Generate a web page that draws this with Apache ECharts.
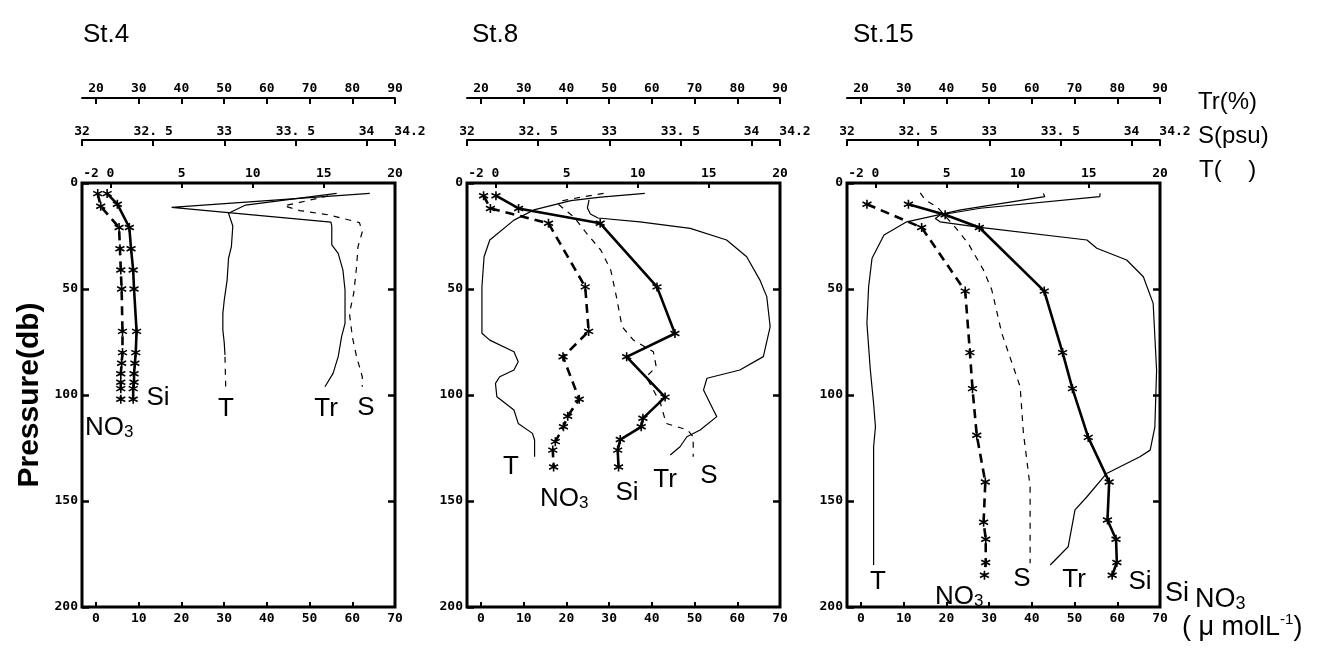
<!DOCTYPE html>
<html><head><meta charset="utf-8">
<script src="https://cdn.jsdelivr.net/npm/echarts@6/dist/echarts.min.js"></script>
<style>html,body{margin:0;padding:0;background:#fff}#c{width:1338px;height:648px}</style>
</head><body><div id="c"></div>
<script>
// ---------- tick labels ----------
const trTicks = [20,30,40,50,60,70,80,90];
const sTicks = [32,32.5,33,33.5,34,34.2];
const tTicks = [-2,0,5,10,15,20];
const nutTicks = [0,10,20,30,40,50,60,70];
const depthTicks = [0,50,100,150,200];
const stations = ['St.4','St.8','St.15'];

// ---------- St.4 ----------
const st4SiDepth = [5,10,21,31,41,50,70,80,85,90,94,97,102];
const st4Si      = [2.6,5.0,7.8,8.2,8.7,8.9,9.5,9.3,9.1,8.9,8.9,8.7,8.7];
const st4NO3Depth = [5,11,21,31,41,50,70,80,85,90,94,97,102];
const st4NO3      = [0.4,1.1,5.4,5.6,5.8,6.0,6.2,6.2,6.0,5.8,5.8,5.8,5.8];
const st4TDepth = [4.9,10.4,14.3,20.3,30,35.5,45.8,55.2,61.5,69.3,75.6,81.1];
const st4T      = [15.9,9.5,8.3,8.6,8.5,8.3,8.2,8.0,7.9,7.9,8.0,8.05];
const st4TDeepDepth = [82,96];
const st4TDeep      = [8.05,8.1];
const st4TrDepth = [4.9,11.5,18.5,20.3,29.2,33.2,41,50.5,66.2,72.5,81.9,89.8,96.1];
const st4Tr      = [84.1,37.7,75.0,75.2,75.2,76.7,77.8,78.3,78.3,77.5,76.7,75.5,73.6];
const st4SDepth = [6.1,10.8,13,15.1,18.7,23,30,39.5,52,61.5,72.5,81.9,86.6,91.4,96.1];
const st4S      = [33.73,33.42,33.53,33.74,33.95,33.97,33.94,33.93,33.91,33.88,33.90,33.93,33.95,33.97,33.97];

// ---------- St.8 ----------
const st8SiDepth = [6,12,19,49,71,82,101,111,115,121,126,134];
const st8Si      = [3.5,8.8,27.9,41.2,45.4,34.1,43.1,37.9,37.5,32.6,32.0,32.2];
const st8NO3Depth = [6,12,19,49,70,82,102,110,115,122,126,134];
const st8NO3      = [0.6,2.2,15.8,24.4,25.2,19.2,23.0,20.3,19.3,17.4,16.8,17.0];
const st8TDepth = [4.9,6.7,8.3,12.7,17.5,26.9,34.8,48.9,70.9,74.1,79.6,84.3,88.2,91.4,94.5,100.8,107.1,113.4,118.1,121.2,129.1];
const st8T      = [10.5,7.4,5.3,2.7,1.3,-0.4,-0.8,-0.95,-0.95,-0.4,1.3,1.6,1.3,0.3,0.0,0.1,1.3,1.6,2.6,2.75,2.75];
const st8TrDepth = [8,11.8,14.6,16.5,18.3,21.4,26.9,34.8,45.8,53.6,67.8,81.9,88.2,92.1,97.6,107.1,110.2,116.5,119.7,124.4,128.3];
const st8Tr      = [45.3,44.9,45.6,47.4,57.2,69.0,77.5,82.2,85.3,86.9,87.7,86.1,80.6,72.9,72.1,74.4,75.2,71.3,68.2,66.6,64.3];
const st8SDepth = [4.9,6.7,8.5,9.9,12.7,15.9,23.7,31.6,41,53.6,67.8,74.1,79.6,86.7,91.4,103.9,113.4,116.5,119.7,129.1];
const st8S      = [32.96,32.80,32.66,32.64,32.69,32.75,32.84,32.94,33.01,33.05,33.09,33.17,33.31,33.33,33.26,33.36,33.40,33.55,33.59,33.59];

// ---------- St.15 ----------
const st15SiDepth = [10,15,21,51,80,97,120,141,159,168,179,185];
const st15Si      = [11.1,19.7,27.7,42.9,47.2,49.5,53.2,58.1,57.7,59.7,59.9,58.8];
const st15NO3Depth = [10,21,51,80,97,119,141,160,168,179,185];
const st15NO3      = [1.4,14.2,24.4,25.5,26.1,27.1,29.1,28.7,29.2,29.2,28.9];
const st15TDepth = [4.9,6.4,12.7,18.3,24.5,35.5,48.9,66.2,88.2,104,115,124.4,180.2];
const st15T      = [11.8,11.9,6.0,2.2,0.6,-0.24,-0.48,-0.6,-0.36,-0.13,0,-0.13,-0.13];
const st15TrDepth = [4.9,6.4,11.9,15.1,16.7,18.3,20.9,26.9,30.8,36.3,44.2,56.8,88.2,115,126,129.1,137,148,154.2,171.6,180.2];
const st15Tr      = [76.0,75.9,47.9,38.5,37.4,38.5,47.9,72.9,75.2,82.2,86.1,88.4,89.2,88.8,87.7,85.3,77.5,72.9,70.1,68.5,64.3];
const st15SDepth = [4.7,8,11.3,20.8,28.3,41,50.5,70.9,96.1,118,130.7,143.3,179.4];
const st15S      = [32.515,32.55,32.634,32.76,32.85,32.959,33.018,33.088,33.217,33.24,33.264,33.287,33.287];

// ---------- chart ----------
const chart = echarts.init(document.getElementById('c'), null, {renderer:'canvas'});
const MONOFAM = '"DejaVu Sans Mono", monospace';
const MONO = {fontFamily:MONOFAM, fontSize:13, fontWeight:'bold', color:'#000'};
const SANS = '"Liberation Sans", Arial, sans-serif';
const ASTER = 'path://M5,0L5,10M0.67,2.5L9.33,7.5M0.67,7.5L9.33,2.5';
const lefts = [82,467,847];

const grid = lefts.map(l => ({left:l, top:183, width:313, height:424, show:true,
  borderColor:'#000', borderWidth:3, backgroundColor:'transparent', containLabel:false}));

const xAxis = [], yAxis = [];
lefts.forEach((l,g) => {
  // T axis (box top)
  xAxis.push({gridIndex:g, type:'value', position:'top', min:-2, max:20,
    axisLine:{show:false, onZero:false}, splitLine:{show:false},
    axisTick:{show:true, inside:true, length:5, lineStyle:{color:'#000', width:2}, customValues:[0,5,10,15]},
    axisLabel:Object.assign({customValues:tTicks, margin:3,
      formatter: v => v === -2 ? '{l|-2}' : String(v),
      rich:{l:{fontFamily:MONOFAM, fontSize:13, fontWeight:'bold', color:'#000', padding:[0,0,0,18]}}}, MONO)});
  // S axis
  xAxis.push({gridIndex:g, type:'value', position:'top', offset:43, min:32, max:34.2,
    axisLine:{show:true, onZero:false, lineStyle:{color:'#000', width:2}}, splitLine:{show:false},
    axisTick:{show:true, inside:true, length:6, lineStyle:{color:'#000', width:2}, customValues:sTicks},
    axisLabel:Object.assign({customValues:sTicks, margin:2,
      formatter: v => v === 34.2 ? '{r|34.2}' : String(v).replace('.', '. '),
      rich:{r:{fontFamily:MONOFAM, fontSize:13, fontWeight:'bold', color:'#000', padding:[0,0,0,30]}}}, MONO)});
  // Tr axis
  xAxis.push({gridIndex:g, type:'value', position:'top', offset:85, min:16.72, max:90,
    axisLine:{show:true, onZero:false, lineStyle:{color:'#000', width:2}}, splitLine:{show:false},
    axisTick:{show:true, inside:true, length:6, lineStyle:{color:'#000', width:2}, customValues:trTicks},
    axisLabel:Object.assign({customValues:trTicks, margin:3}, MONO)});
  // Si / NO3 axis (bottom)
  xAxis.push({gridIndex:g, type:'value', position:'bottom', min:-3.28, max:70,
    axisLine:{show:false, onZero:false}, splitLine:{show:false},
    axisTick:{show:true, inside:true, length:5, lineStyle:{color:'#000', width:2}, customValues:nutTicks},
    axisLabel:Object.assign({customValues:nutTicks, margin:5}, MONO)});
  yAxis.push({gridIndex:g, type:'value', position:'left', inverse:true, min:0, max:200,
    axisLine:{show:false, onZero:false}, splitLine:{show:false},
    axisTick:{show:true, inside:true, length:7, lineStyle:{color:'#000', width:2.5}, customValues:depthTicks},
    axisLabel:Object.assign({customValues:depthTicks, margin:4}, MONO)});
  yAxis.push({gridIndex:g, type:'value', position:'right', inverse:true, min:0, max:200,
    axisLine:{show:false, onZero:false}, splitLine:{show:false},
    axisTick:{show:true, inside:true, length:7, lineStyle:{color:'#000', width:2.5}, customValues:[50,100,150]},
    axisLabel:{show:false}});
});

const KIND = {T:0, S:1, Tr:2, N:3};
function mk(name, xs, ds, g, kind, style) {
  const s = {name, type:'line', xAxisIndex:4*g+KIND[kind], yAxisIndex:2*g,
    data: xs.map((v,i)=>[v, ds[i]]), animation:false, smooth:false, z:3};
  if (style === 'si' || style === 'no3') {
    s.symbol = ASTER; s.symbolSize = 9; s.showSymbol = true;
    s.itemStyle = {color:'#000', borderColor:'#000', borderWidth:1.6};
    s.lineStyle = {color:'#000', width:2.6, type: style === 'si' ? 'solid' : [9,6]};
  } else {
    s.symbol = 'none'; s.showSymbol = false;
    s.lineStyle = {color:'#000', width:1.2, type: style === 'dash' ? [6,6] : 'solid'};
  }
  return s;
}
const series = [
  mk('Si', st4Si, st4SiDepth, 0, 'N', 'si'),
  mk('NO3', st4NO3, st4NO3Depth, 0, 'N', 'no3'),
  mk('T', st4T, st4TDepth, 0, 'T', 'thin'),
  mk('T2', st4TDeep, st4TDeepDepth, 0, 'T', 'dash'),
  mk('Tr', st4Tr, st4TrDepth, 0, 'Tr', 'thin'),
  mk('S', st4S, st4SDepth, 0, 'S', 'dash'),
  mk('Si', st8Si, st8SiDepth, 1, 'N', 'si'),
  mk('NO3', st8NO3, st8NO3Depth, 1, 'N', 'no3'),
  mk('T', st8T, st8TDepth, 1, 'T', 'thin'),
  mk('Tr', st8Tr, st8TrDepth, 1, 'Tr', 'thin'),
  mk('S', st8S, st8SDepth, 1, 'S', 'dash'),
  mk('Si', st15Si, st15SiDepth, 2, 'N', 'si'),
  mk('NO3', st15NO3, st15NO3Depth, 2, 'N', 'no3'),
  mk('T', st15T, st15TDepth, 2, 'T', 'thin'),
  mk('Tr', st15Tr, st15TrDepth, 2, 'Tr', 'thin'),
  mk('S', st15S, st15SDepth, 2, 'S', 'dash')
];

function txt(x, y, text, size, align) {
  return {type:'text', x, y, z:10, style:{text, fill:'#000', fontSize:size, fontFamily:SANS,
    align: align || 'center', verticalAlign:'middle', textAlign: align || 'center', textVerticalAlign:'middle'}};
}
function no3(x, y, size) {
  return {type:'text', x, y, z:10, style:{text:'{a|NO}{b|3}', fill:'#000', align:'left', verticalAlign:'middle',
    textAlign:'left', textVerticalAlign:'middle',
    rich:{a:{fontSize:size, fontFamily:SANS, fill:'#000', lineHeight:size+8, verticalAlign:'bottom'},
          b:{fontSize:Math.round(size*0.65), fontFamily:SANS, fill:'#000', verticalAlign:'bottom', lineHeight:size+2}}}};
}
const graphic = [
  txt(83, 35, stations[0], 26, 'left'),
  txt(472, 35, stations[1], 26, 'left'),
  txt(853, 35, stations[2], 26, 'left'),
  txt(1198, 102, 'Tr(%)', 24, 'left'),
  txt(1198, 136, 'S(psu)', 24, 'left'),
  txt(1199, 170, 'T(    )', 24, 'left'),
  {type:'text', x:30, y:395, rotation:Math.PI/2, z:10, style:{text:'Pressure(db)', fill:'#000',
    fontSize:30, fontWeight:'bold', fontFamily:SANS, align:'center', verticalAlign:'middle',
    textAlign:'center', textVerticalAlign:'middle'}},
  // St.4 labels
  txt(158, 398, 'Si', 26), no3(85, 424, 26), txt(226, 409, 'T', 26), txt(326, 409, 'Tr', 26), txt(366, 408, 'S', 26),
  // St.8 labels
  txt(511, 467, 'T', 26), no3(540, 495, 26), txt(627, 493, 'Si', 26), txt(665, 480, 'Tr', 26), txt(709, 476, 'S', 26),
  // St.15 labels
  txt(878, 582, 'T', 26), no3(935, 593, 26), txt(1022, 579, 'S', 26), txt(1074, 580, 'Tr', 26), txt(1140, 582, 'Si', 26),
  // unit label
  txt(1165, 594, 'Si', 27, 'left'), no3(1195, 596, 27),
  {type:'text', x:1182, y:628, z:10, style:{text:'{a|( μ molL}{b|-1}{a|)}', fill:'#000', align:'left', verticalAlign:'middle',
    textAlign:'left', textVerticalAlign:'middle',
    rich:{a:{fontSize:27, fontFamily:SANS, fill:'#000', lineHeight:32, verticalAlign:'middle'},
          b:{fontSize:15, fontFamily:SANS, fill:'#000', verticalAlign:'top', lineHeight:32}}}}
];

chart.setOption({backgroundColor:'#fff', animation:false, grid, xAxis, yAxis, series, graphic});
</script></body></html>
